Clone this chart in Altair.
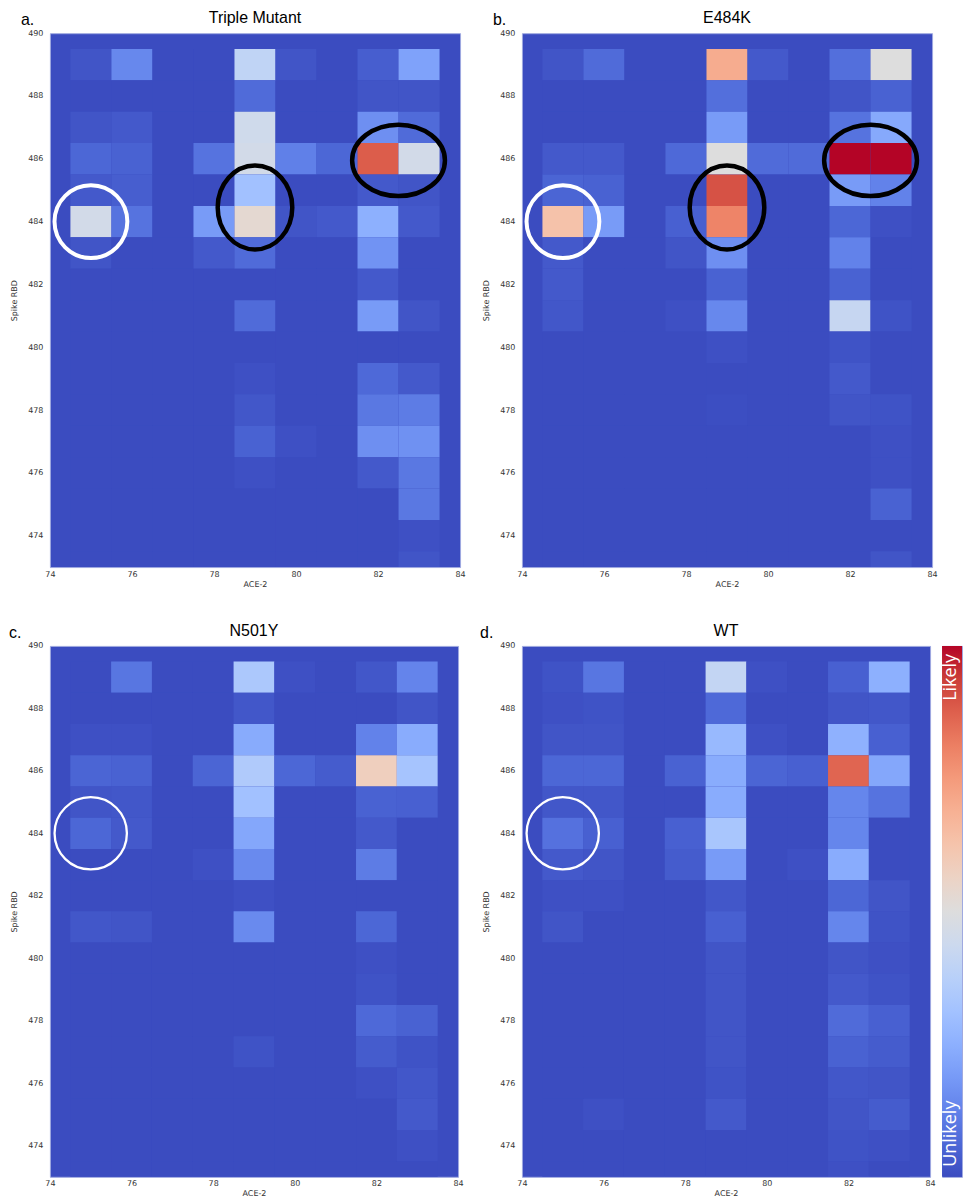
import altair as alt
import pandas as pd

# ---------------- data ----------------
ACE2 = [75, 76, 77, 78, 79, 80, 81, 82, 83]
RBD = [489, 488, 487, 486, 485, 484, 483, 482, 481, 480, 479, 478, 477, 476, 475, 474, 473]

TRIPLE = [
    [0.02, 0.14, 0, 0, 0.40, 0.02, 0, 0.04, 0.21],
    [0, 0, 0, 0, 0.07, 0, 0, 0.02, 0.02],
    [0.02, 0.03, 0, 0, 0.45, 0, 0, 0.16, 0.07],
    [0.06, 0.05, 0, 0.09, 0.46, 0.12, 0.06, 0.88, 0.46],
    [0.03, 0.04, 0, 0, 0.31, 0, 0, 0.03, 0.02],
    [0.46, 0.09, 0, 0.19, 0.53, 0.02, 0.03, 0.25, 0.03],
    [0.02, 0, 0, 0.03, 0.07, 0, 0, 0.17, 0],
    [0, 0, 0, 0, 0, 0, 0, 0.03, 0],
    [0, 0, 0, 0, 0.07, 0, 0, 0.19, 0.02],
    [0, 0, 0, 0, 0, 0, 0, 0, 0],
    [0, 0, 0, 0, 0.01, 0, 0, 0.065, 0.03],
    [0, 0, 0, 0, 0.025, 0, 0, 0.10, 0.11],
    [0, 0, 0, 0, 0.05, 0.01, 0, 0.16, 0.165],
    [0, 0, 0, 0, 0.01, 0, 0, 0.03, 0.10],
    [0, 0, 0, 0, 0, 0, 0, 0, 0.10],
    [0, 0, 0, 0, 0, 0, 0, 0, 0.01],
    [0, 0, 0, 0, 0, 0, 0, 0, 0.02],
]

E484K = [
    [0.02, 0.07, 0, 0, 0.70, 0.03, 0, 0.08, 0.50],
    [0, 0, 0, 0, 0.08, 0, 0, 0.02, 0.05],
    [0, 0, 0, 0, 0.19, 0, 0, 0.09, 0.23],
    [0.03, 0.03, 0, 0.065, 0.50, 0.07, 0.07, 1.0, 1.0],
    [0.055, 0.05, 0, 0, 0.90, 0, 0, 0.19, 0.125],
    [0.63, 0.19, 0, 0.045, 0.80, 0, 0, 0.06, 0.01],
    [0.03, 0, 0, 0.02, 0.16, 0, 0, 0.125, 0],
    [0.03, 0, 0, 0, 0.05, 0, 0, 0.05, 0],
    [0.025, 0, 0, 0.01, 0.14, 0, 0, 0.42, 0.015],
    [0, 0, 0, 0, 0.01, 0, 0, 0.015, 0],
    [0, 0, 0, 0, 0, 0, 0, 0.03, 0],
    [0, 0, 0, 0, 0.005, 0, 0, 0.02, 0.015],
    [0, 0, 0, 0, 0, 0, 0, 0, 0.01],
    [0, 0, 0, 0, 0, 0, 0, 0, 0.01],
    [0, 0, 0, 0, 0, 0, 0, 0, 0.05],
    [0, 0, 0, 0, 0, 0, 0, 0, 0],
    [0, 0, 0, 0, 0, 0, 0, 0, 0.02],
]

N501Y = [
    [0, 0.095, 0, 0, 0.34, 0.01, 0, 0.025, 0.13],
    [0, 0, 0, 0, 0.025, 0, 0, 0, 0.02],
    [0.01, 0.01, 0, 0, 0.235, 0, 0, 0.125, 0.24],
    [0.055, 0.05, 0, 0.055, 0.35, 0.06, 0.035, 0.58, 0.32],
    [0.02, 0.025, 0, 0, 0.31, 0, 0, 0.05, 0.045],
    [0.06, 0.03, 0, 0, 0.225, 0, 0, 0.03, 0],
    [0, 0, 0, 0.01, 0.145, 0, 0, 0.11, 0],
    [0, 0, 0, 0, 0.01, 0, 0, 0, 0],
    [0.025, 0.02, 0, 0, 0.145, 0, 0, 0.06, 0],
    [0, 0, 0, 0, 0, 0, 0, 0.01, 0],
    [0, 0, 0, 0, 0, 0, 0, 0.015, 0],
    [0, 0, 0, 0, 0, 0, 0, 0.065, 0.05],
    [0, 0, 0, 0, 0.015, 0, 0, 0.035, 0.015],
    [0, 0, 0, 0, 0, 0, 0, 0.01, 0.025],
    [0, 0, 0, 0, 0, 0, 0, 0, 0.03],
    [0, 0, 0, 0, 0, 0, 0, 0, 0.01],
    [0, 0, 0, 0, 0, 0, 0, 0, 0],
]

WT = [
    [0.015, 0.095, 0, 0, 0.41, 0.01, 0, 0.045, 0.25],
    [0.01, 0.015, 0, 0, 0.065, 0, 0, 0.02, 0.025],
    [0.02, 0.02, 0, 0, 0.28, 0.01, 0, 0.255, 0.045],
    [0.06, 0.06, 0, 0.05, 0.24, 0.055, 0.045, 0.865, 0.225],
    [0.025, 0.025, 0, 0, 0.24, 0, 0, 0.135, 0.09],
    [0.085, 0.045, 0, 0.045, 0.33, 0, 0, 0.135, 0],
    [0.03, 0.02, 0, 0.035, 0.19, 0, 0.01, 0.24, 0],
    [0.01, 0.01, 0, 0, 0.025, 0, 0, 0.06, 0.02],
    [0.02, 0, 0, 0, 0.045, 0, 0, 0.135, 0.015],
    [0, 0, 0, 0, 0.02, 0, 0, 0.02, 0.01],
    [0, 0, 0, 0, 0.02, 0, 0, 0.03, 0.015],
    [0, 0, 0, 0, 0.02, 0, 0, 0.07, 0.045],
    [0, 0, 0, 0, 0.02, 0, 0, 0.05, 0.035],
    [0, 0, 0, 0, 0.015, 0, 0, 0.025, 0.02],
    [0, 0.01, 0, 0, 0.03, 0, 0, 0.02, 0.035],
    [0, 0, 0, 0, 0, 0, 0, 0.015, 0.01],
    [0, 0, 0, 0, 0, 0, 0, 0.01, 0],
]

PANEL_TITLES = ["Triple Mutant", "E484K", "N501Y", "WT"]
PANEL_LETTERS = ["a.", "b.", "c.", "d."]
X_TICKS = [74, 76, 78, 80, 82, 84]
Y_TICKS = [474, 476, 478, 480, 482, 484, 486, 488, 490]

# annotation ring centres (data coordinates)
WHITE_RING = {"cx": [75], "cy": [484]}
TALL_RING = {"cx": [79], "cy": [484.45]}
WIDE_RING = {"cx": [82.5], "cy": [485.95]}

CBAR_LABELS = ["Unlikely", "Likely"]

# coolwarm colour map stops
CW_POS = [0, 0.0625, 0.125, 0.1875, 0.25, 0.3125, 0.375, 0.4375, 0.5,
          0.5625, 0.625, 0.6875, 0.75, 0.8125, 0.875, 0.9375, 1.0]
CW_COL = ["#3b4cc0", "#4d68d7", "#6282ea", "#779af7", "#8db0fe", "#a3c2ff",
          "#b8d0f9", "#ccd9ee", "#dddddd", "#ecd3c5", "#f5c4ac", "#f7b194",
          "#f49a7b", "#ec7f63", "#de604d", "#cb3e38", "#b40426"]

# ---------------- chart ----------------
AX_FONT = "DejaVu Sans"
TITLE_FONT = "Liberation Sans"

xscale = alt.Scale(domain=[74, 84], nice=False, zero=False)
yscale = alt.Scale(domain=[473, 490], nice=False, zero=False)
cscale = alt.Scale(domain=CW_POS, range=CW_COL, interpolate="rgb")

X_AXIS = alt.Axis(values=X_TICKS, labelFlush=False)
Y_AXIS = alt.Axis(values=Y_TICKS, labelFlush=False)

TALL_PATH = "M 0 -1 A 0.89 1 0 1 1 0 1 A 0.89 1 0 1 1 0 -1 Z"
WIDE_PATH = "M -1 0 A 1 0.77 0 1 1 1 0 A 1 0.77 0 1 1 -1 0 Z"


def grid_df(grid):
    rows = []
    for yi, yv in enumerate(RBD):
        for xi, xv in enumerate(ACE2):
            rows.append({"x0": xv - 0.5, "x1": xv + 0.5,
                         "y0": yv - 0.5, "y1": yv + 0.5,
                         "v": grid[yi][xi]})
    return pd.DataFrame(rows)


def xenc(field):
    return alt.X(field, scale=xscale, axis=X_AXIS, title="ACE-2")


def yenc(field):
    return alt.Y(field, scale=yscale, axis=Y_AXIS, title="Spike RBD")


def panel(grid, title, letter, w, h, thick, letter_dx):
    heat = alt.Chart(grid_df(grid)).mark_rect(
        strokeWidth=0, clip=True).encode(
        x=xenc("x0:Q"), x2="x1:Q",
        y=yenc("y0:Q"), y2="y1:Q",
        color=alt.Color("v:Q", scale=cscale, legend=None),
    )
    layers = [heat]
    ring_w = 4 if thick else 2.3
    ring_size = 73 * 73 if thick else 72.5 * 72.5
    white = alt.Chart(pd.DataFrame(WHITE_RING)).mark_point(
        shape="circle", size=ring_size, filled=False, stroke="white",
        strokeWidth=ring_w, opacity=1).encode(x=xenc("cx:Q"), y=yenc("cy:Q"))
    layers.append(white)
    if thick:
        tall = alt.Chart(pd.DataFrame(TALL_RING)).mark_point(
            shape=TALL_PATH, size=84 * 84, filled=False, stroke="black",
            strokeWidth=4.5, opacity=1).encode(x=xenc("cx:Q"), y=yenc("cy:Q"))
        wide = alt.Chart(pd.DataFrame(WIDE_RING)).mark_point(
            shape=WIDE_PATH, size=93 * 93, filled=False, stroke="black",
            strokeWidth=4.5, opacity=1).encode(x=xenc("cx:Q"), y=yenc("cy:Q"))
        layers += [tall, wide]
    lab = alt.Chart(pd.DataFrame({"t": [letter]})).mark_text(
        align="left", baseline="alphabetic", font=TITLE_FONT, fontSize=16,
        color="black").encode(text="t:N", x=alt.value(letter_dx), y=alt.value(-8))
    layers.append(lab)
    return alt.layer(*layers).properties(
        width=w, height=h,
        title=alt.TitleParams(title, font=TITLE_FONT, fontSize=16,
                              fontWeight="normal", color="black",
                              anchor="middle", frame="group", offset=-14),
    )


pa = panel(TRIPLE, PANEL_TITLES[0], PANEL_LETTERS[0], 411, 535, True, -29)
pb = panel(E484K, PANEL_TITLES[1], PANEL_LETTERS[1], 411, 535, True, -29)
pc = panel(N501Y, PANEL_TITLES[2], PANEL_LETTERS[2], 409, 532, False, -41)
pd_ = panel(WT, PANEL_TITLES[3], PANEL_LETTERS[3], 409, 532, False, -42)

cbar_scale = alt.Scale(domain=[0, 1], nice=False, zero=False)
grad = alt.LinearGradient(
    gradient="linear",
    stops=[alt.GradientStop(color=c, offset=p) for p, c in zip(CW_POS, CW_COL)],
    x1=0, x2=0, y1=1, y2=0)
cbar_rect = alt.Chart(pd.DataFrame({"lo": [0], "hi": [1]})).mark_rect(
    fill=grad, strokeWidth=0).encode(
    y=alt.Y("lo:Q", scale=cbar_scale, axis=None), y2="hi:Q",
    x=alt.value(0), x2=alt.value(20))
lab_df = pd.DataFrame({"label": CBAR_LABELS, "pos": [0, 1]})
cbar_top = alt.Chart(lab_df).transform_filter(alt.datum.label == "Likely").mark_text(
    angle=270, align="right", baseline="alphabetic", font="Open Sans",
    fontSize=18, color="white", yOffset=8).encode(
    text="label:N", y=alt.Y("pos:Q", scale=cbar_scale, axis=None), x=alt.value(14))
cbar_bot = alt.Chart(lab_df).transform_filter(alt.datum.label == "Unlikely").mark_text(
    angle=270, align="left", baseline="alphabetic", font="Open Sans",
    fontSize=18, color="white", yOffset=-10).encode(
    text="label:N", y=alt.Y("pos:Q", scale=cbar_scale, axis=None), x=alt.value(14))
cbar = alt.layer(cbar_rect, cbar_top, cbar_bot).properties(width=20, height=532)

top = alt.hconcat(pa, pb, spacing=16)
bottom = alt.hconcat(alt.hconcat(pc, pd_, spacing=15), cbar, spacing=5)
chart = alt.vconcat(top, bottom, spacing=33).properties(
    padding={"left": 0, "top": 0, "right": 0, "bottom": 0},
    background="white",
).configure_view(
    fill="#3b4cc0", stroke="#9fa9e0", strokeWidth=1
).configure_axis(
    domain=False, ticks=False, tickSize=0, grid=False,
    labelFont=AX_FONT, labelFontSize=8, labelColor="#333333",
    titleFont=AX_FONT, titleFontSize=8, titleFontWeight="normal",
    titleColor="#333333",
).configure_axisX(labelPadding=3, titlePadding=2
).configure_axisY(labelPadding=7, titlePadding=9)

chart.save("out.html", embed_options={"renderer": "svg", "actions": False})
